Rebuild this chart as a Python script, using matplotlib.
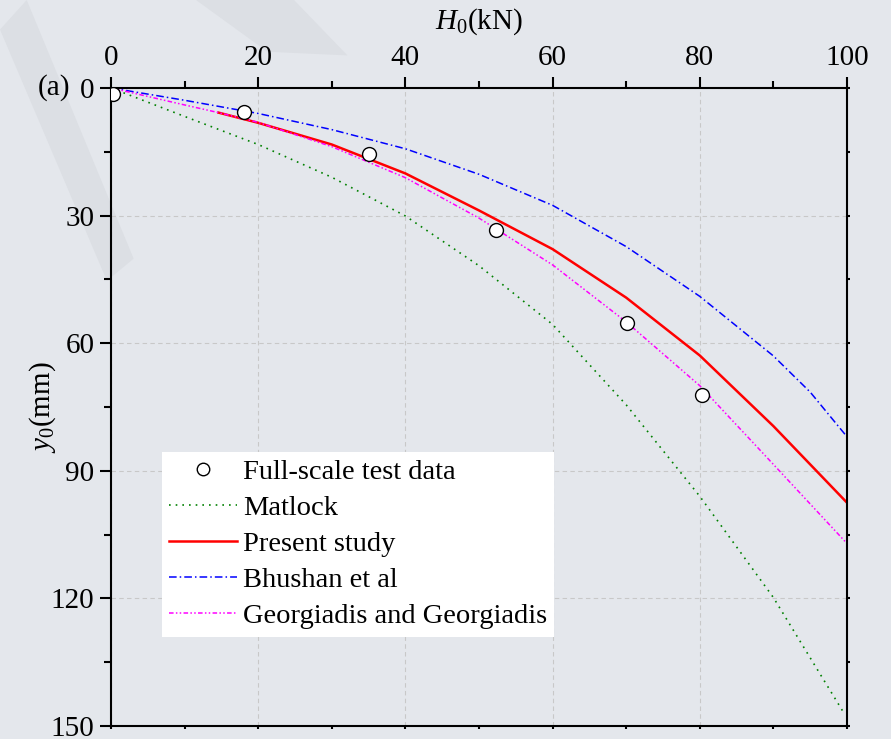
import matplotlib
matplotlib.use('Agg')
import matplotlib.pyplot as plt
from matplotlib.patches import Polygon
from matplotlib.ticker import MultipleLocator

plt.rcParams['font.family'] = ['Liberation Serif', 'DejaVu Serif']
plt.rcParams['mathtext.fontset'] = 'custom'
plt.rcParams['mathtext.rm'] = 'Liberation Serif'
plt.rcParams['mathtext.it'] = 'Liberation Serif:italic'

# test data
test_h = [0.3, 18.1, 35.0, 52.3, 70.1, 80.3]
test_y = [1.4, 5.6, 15.5, 33.4, 55.3, 72.3]

# Matlock
matlock_h = [0, 10, 20, 30, 40, 50, 60, 70, 80, 90, 99.6]
matlock_y = [0, 6.7, 13.3, 21.0, 30.1, 41.8, 55.6, 74.5, 96.0, 119.8, 147.0]

# present study
present_h = [14.6, 20, 30, 40, 50, 60, 70, 80, 90, 100]
present_y = [5.8, 8.2, 13.3, 20.1, 28.8, 37.9, 49.3, 62.9, 79.5, 97.5]

# Bhushan et al
bhushan_h = [0, 10, 20, 30, 40, 50, 60, 70, 80, 90, 95, 100]
bhushan_y = [0, 2.9, 6.0, 9.8, 14.3, 20.3, 27.6, 37.3, 49.0, 63.0, 71.5, 82.0]

# Georgiadis and Georgiadis
georg_h = [0, 10, 14.6, 20, 30, 40, 50, 60, 70, 80, 90, 100]
georg_y = [0, 4.0, 5.8, 8.1, 13.8, 21.1, 30.6, 41.6, 55.0, 70.0, 88.5, 107.1]

bg = '#e4e7ec'
fig = plt.figure(figsize=(8.91, 7.39), dpi=100, facecolor=bg)

# faint watermark shapes in the background
wm = '#dcdfe4'
fig.patches.append(Polygon([(0.0, 0.96), (0.03, 1.0), (0.15, 0.65), (0.12, 0.62)],
                           closed=True, transform=fig.transFigure,
                           facecolor=wm, edgecolor='none', zorder=-5))
fig.patches.append(Polygon([(0.22, 1.0), (0.33, 1.0), (0.39, 0.925), (0.30, 0.93)],
                           closed=True, transform=fig.transFigure,
                           facecolor=wm, edgecolor='none', zorder=-5))

ax = fig.add_axes([0.1246, 0.0176, 0.826, 0.8634])
ax.set_facecolor('none')

ax.plot(matlock_h, matlock_y, color='green', ls=(0, (1, 3)), lw=1.2, label='Matlock')
ax.plot(present_h, present_y, color='red', ls='-', lw=1.8, label='Present study')
ax.plot(bhushan_h, bhushan_y, color='blue', ls=(0, (5, 2, 1, 2)), lw=1.1, label='Bhushan et al')
ax.plot(georg_h, georg_y, color='magenta', ls=(0, (3, 1.5, 1, 1.5, 1, 1.5)), lw=1.1,
        label='Georgiadis and Georgiadis')
ax.plot(test_h, test_y, 'o', ms=10, mfc='white', mec='black', mew=1.0,
        label='Full-scale test data', zorder=5)

ax.set_xlim(0, 100)
ax.set_ylim(150, 0)
ax.xaxis.set_major_locator(MultipleLocator(20))
ax.xaxis.set_minor_locator(MultipleLocator(10))
ax.yaxis.set_major_locator(MultipleLocator(30))
ax.yaxis.set_minor_locator(MultipleLocator(15))
ax.xaxis.tick_top()
ax.xaxis.set_label_position('top')

ax.tick_params(axis='x', which='major', direction='out', length=8, width=1.5,
               labelsize=21, pad=4, top=True, bottom=True)
ax.tick_params(axis='x', which='minor', direction='out', length=5, width=1.5, top=True, bottom=True)
ax.tick_params(axis='y', which='major', direction='out', length=8, width=1.5,
               labelsize=21, pad=4, left=True, right=True)
ax.tick_params(axis='y', which='minor', direction='out', length=5, width=1.5, left=True, right=True)
# short ticks on the bottom and right spines
for t in ax.xaxis.get_ticklines(minor=False)[0::2] + ax.xaxis.get_ticklines(minor=True)[0::2]:
    t.set_markersize(2)
for t in ax.yaxis.get_ticklines(minor=False)[1::2] + ax.yaxis.get_ticklines(minor=True)[1::2]:
    t.set_markersize(2)

for s in ax.spines.values():
    s.set_linewidth(1.5)

ax.grid(True, which='major', ls=(0, (4, 3)), color='#c8c8c8', lw=0.8)

ax.set_xlabel('$H_0$(kN)', fontsize=21, labelpad=12)
ax.set_ylabel('$y_0$(mm)', fontsize=21, labelpad=-5)
ax.text(-0.1, 1.0, '(a)', transform=ax.transAxes, fontsize=21, ha='left', va='center')

handles, labels = ax.get_legend_handles_labels()
order = [4, 0, 1, 2, 3]
leg = ax.legend([handles[i] for i in order], [labels[i] for i in order],
                loc='upper left', bbox_to_anchor=(0.069, 0.43), fontsize=20.5,
                frameon=True, fancybox=False, framealpha=1, edgecolor='none',
                handlelength=2.4, handletextpad=0.2, labelspacing=0.36,
                borderpad=0.25, borderaxespad=0)
leg.get_frame().set_facecolor('white')
leg.legend_handles[0].set_markersize(9)

fig.savefig('out.png', dpi=100, facecolor=bg)
